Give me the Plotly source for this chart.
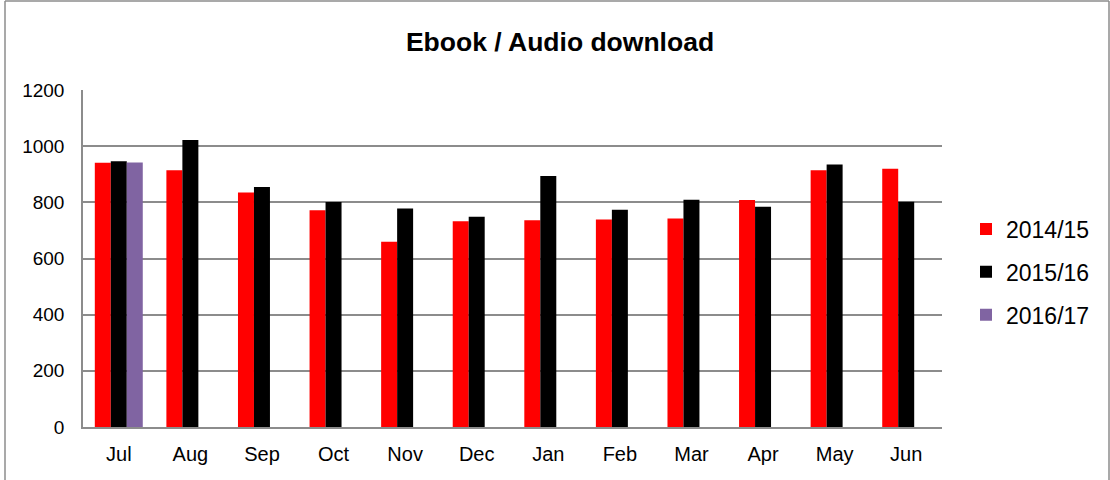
import plotly.graph_objects as go

months = ["Jul", "Aug", "Sep", "Oct", "Nov", "Dec", "Jan", "Feb", "Mar", "Apr", "May", "Jun"]
s_2014_15 = [941, 914, 835, 772, 660, 733, 736, 739, 742, 808, 914, 920]
s_2015_16 = [946, 1022, 855, 801, 778, 749, 894, 774, 809, 784, 935, 802]
s_2016_17 = [942, None, None, None, None, None, None, None, None, None, None, None]
series_names = ["2014/15", "2015/16", "2016/17"]
series_colors = ["#FF0000", "#000000", "#8064A2"]
y_ticks = [0, 200, 400, 600, 800, 1000, 1200]

W, H = 1110, 480
L, R, T, B = 83, 942, 90, 427

fig = go.Figure()
for name, vals, col in zip(series_names, [s_2014_15, s_2015_16, s_2016_17], series_colors):
    fig.add_trace(go.Bar(x=months, y=vals, name=name, marker=dict(color=col, line=dict(width=0)),
                         legendgroup=name))

def px_x(p):
    return (p - L) / (R - L)

def px_y(p):
    return (B - p) / (B - T)

border = "#8C8C8C"
shapes = [
    dict(type="line", xref="paper", yref="paper", x0=px_x(5), x1=px_x(5), y0=px_y(1), y1=px_y(485), line=dict(color=border, width=1.5)),
    dict(type="line", xref="paper", yref="paper", x0=px_x(5), x1=px_x(1109), y0=px_y(1), y1=px_y(1), line=dict(color=border, width=1.5)),
    dict(type="line", xref="paper", yref="paper", x0=px_x(1109), x1=px_x(1109), y0=px_y(1), y1=px_y(485), line=dict(color=border, width=1.5)),
]

fig.update_layout(
    width=W, height=H,
    margin=dict(l=L, r=W - R, t=T, b=H - B, pad=0),
    paper_bgcolor="white", plot_bgcolor="white",
    font=dict(family="Liberation Sans, Arial, sans-serif", color="black"),
    title=dict(text="<b>Ebook / Audio download</b>", x=560 / W, xref="container", xanchor="center",
               y=1 - 42 / H, yref="container", yanchor="middle",
               font=dict(size=26.5, color="black")),
    barmode="group", bargap=0.33, bargroupgap=0,
    showlegend=True,
    legend=dict(x=966 / W, xref="container", xanchor="left", y=1 - 272 / H, yref="container", yanchor="middle",
                font=dict(size=23), tracegroupgap=10, bgcolor="rgba(0,0,0,0)"),
    shapes=shapes,
)
fig.update_xaxes(showline=True, linecolor=border, linewidth=1.5, showgrid=False, ticks="outside",
                 ticklen=8, tickcolor="rgba(0,0,0,0)", tickfont=dict(size=20), fixedrange=True)
fig.update_yaxes(range=[0, 1200], tickvals=y_ticks, showline=True, linecolor=border, linewidth=1.5,
                 showgrid=True, gridcolor=border, gridwidth=1.5, ticks="outside", ticklen=13,
                 tickcolor="rgba(0,0,0,0)", tickfont=dict(size=19), zeroline=False, fixedrange=True)

fig.write_html("out.html")
